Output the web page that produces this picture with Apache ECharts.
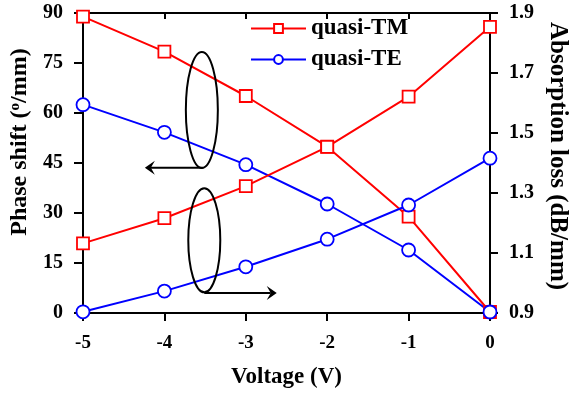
<!DOCTYPE html>
<html><head><meta charset="utf-8">
<script src="https://cdn.jsdelivr.net/npm/echarts@6/dist/echarts.min.js"></script>
<style>html,body{margin:0;padding:0;background:#fff}#c{width:571px;height:393px}</style>
</head><body><div id="c"></div>
<script>
const voltage = [-5, -4, -3, -2, -1, 0];
const phaseTM = [88.9, 78.4, 65.1, 49.9, 28.9, 0.3];
const phaseTE = [62.5, 54.2, 44.5, 32.7, 18.9, 0.3];
const lossTM = [1.132, 1.216, 1.323, 1.454, 1.621, 1.854];
const lossTE = [0.904, 0.973, 1.054, 1.146, 1.26, 1.416];
const leftTicks = [0, 15, 30, 45, 60, 75, 90];
const rightTicks = [0.9, 1.1, 1.3, 1.5, 1.7, 1.9];

const F = 'Liberation Serif';
const chart = echarts.init(document.getElementById('c'));
const zip = (a, b) => a.map((v, i) => [v, b[i]]);
const axLine = {show: true, lineStyle: {color: '#000', width: 2}};
const tick = (inside, len) => ({show: true, inside, length: len, lineStyle: {width: 2, color: '#000'}});
const red = '#ff0000', blue = '#0000ff';
function series(name, data, yIdx, color, sym, size) {
  return {name, type: 'line', xAxisIndex: 0, yAxisIndex: yIdx, data,
    symbol: sym, symbolSize: size, showSymbol: true,
    lineStyle: {color, width: 2}, itemStyle: {color: '#fff', borderColor: color, borderWidth: 1.8},
    emphasis: {disabled: true}, z: 3};
}
chart.setOption({
  animation: false,
  grid: {left: 83, right: 81, top: 13, bottom: 80, containLabel: false, outerBoundsMode: 'none'},
  legend: {show: true, left: 245, top: 12, orient: 'vertical', itemGap: 8, itemWidth: 55, itemHeight: 11,
    data: ['quasi-TM', 'quasi-TE'],
    textStyle: {fontFamily: F, fontWeight: 'bold', fontSize: 23, color: '#000'}},
  xAxis: [{type: 'value', min: -5, max: 0, interval: 1,
    axisLine: {...axLine, onZero: false}, axisTick: tick(false, 8),
    axisLabel: {fontFamily: F, fontWeight: 'bold', fontSize: 19, color: '#000', margin: 21},
    splitLine: {show: false},
    name: 'Voltage (V)', nameLocation: 'middle', nameGap: 53,
    nameTextStyle: {fontFamily: F, fontWeight: 'bold', fontSize: 23, color: '#000'}},
   {type: 'value', position: 'top', min: -5, max: 0, interval: 1,
    axisLine: {...axLine, onZero: false}, axisTick: tick(true, 6),
    axisLabel: {show: false}, splitLine: {show: false}}],
  yAxis: [{type: 'value', min: 0, max: 90, interval: 15, position: 'left',
    axisLine: {...axLine, onZero: false}, axisTick: tick(false, 9),
    axisLabel: {fontFamily: F, fontWeight: 'bold', fontSize: 20, color: '#000', margin: 20},
    splitLine: {show: false},
    name: 'Phase shift ({s|o}/mm)', nameLocation: 'middle', nameGap: 49, nameRotate: 90,
    nameTextStyle: {fontFamily: F, fontWeight: 'bold', fontSize: 24, color: '#000', padding: [0, 0, 0, 42],
      rich: {s: {fontFamily: F, fontWeight: 'bold', fontSize: 15, color: '#000', verticalAlign: 'top', padding: [0,0,9,0]}}}},
   {type: 'value', min: 0.9, max: 1.9, interval: 0.2, position: 'right',
    axisLine: {...axLine, onZero: false}, axisTick: tick(false, 8),
    axisLabel: {fontFamily: F, fontWeight: 'bold', fontSize: 20, color: '#000', margin: 19, formatter: v => v.toFixed(1)},
    splitLine: {show: false},
    name: 'Absorption loss (dB/mm)', nameLocation: 'middle', nameGap: 55, nameRotate: -90,
    nameTextStyle: {fontFamily: F, fontWeight: 'bold', fontSize: 25, color: '#000', padding: [0, 14, 0, 0]}}],
  series: [
    series('quasi-TM', zip(voltage, phaseTM), 0, red, 'rect', 12),
    series('quasi-TE', zip(voltage, phaseTE), 0, blue, 'circle', 13),
    series('quasi-TM', zip(voltage, lossTM), 1, red, 'rect', 12),
    series('quasi-TE', zip(voltage, lossTE), 1, blue, 'circle', 13)
  ]
});
// annotations: ellipses with arrows, positioned via data coordinates
const P = (x, y) => chart.convertToPixel({xAxisIndex: 0, yAxisIndex: 0}, [x, y]);
const c1 = P(-3.54, 60.9), b1 = P(-3.53, 43.6), t1 = P(-4.24, 43.6);
const c2 = P(-3.51, 21.8), b2 = P(-3.51, 6.0), t2 = P(-2.62, 6.0);
const stroke = {stroke: '#000', lineWidth: 2, fill: 'none'};
chart.setOption({graphic: [
  {type: 'ellipse', shape: {cx: c1[0], cy: c1[1], rx: 16, ry: 58}, style: stroke, z: 10},
  {type: 'ellipse', shape: {cx: c2[0], cy: c2[1], rx: 16, ry: 52}, style: stroke, z: 10},
  {type: 'line', shape: {x1: b1[0], y1: b1[1], x2: t1[0] + 6, y2: t1[1]}, style: {stroke: '#000', lineWidth: 2}, z: 10},
  {type: 'polygon', shape: {points: [[t1[0], t1[1]], [t1[0] + 10, t1[1] - 7], [t1[0] + 6, t1[1]], [t1[0] + 10, t1[1] + 7]]}, style: {fill: '#000'}, z: 10},
  {type: 'line', shape: {x1: b2[0], y1: b2[1], x2: t2[0] - 6, y2: t2[1]}, style: {stroke: '#000', lineWidth: 2}, z: 10},
  {type: 'polygon', shape: {points: [[t2[0], t2[1]], [t2[0] - 10, t2[1] - 7], [t2[0] - 6, t2[1]], [t2[0] - 10, t2[1] + 7]]}, style: {fill: '#000'}, z: 10}
]});
</script></body></html>
